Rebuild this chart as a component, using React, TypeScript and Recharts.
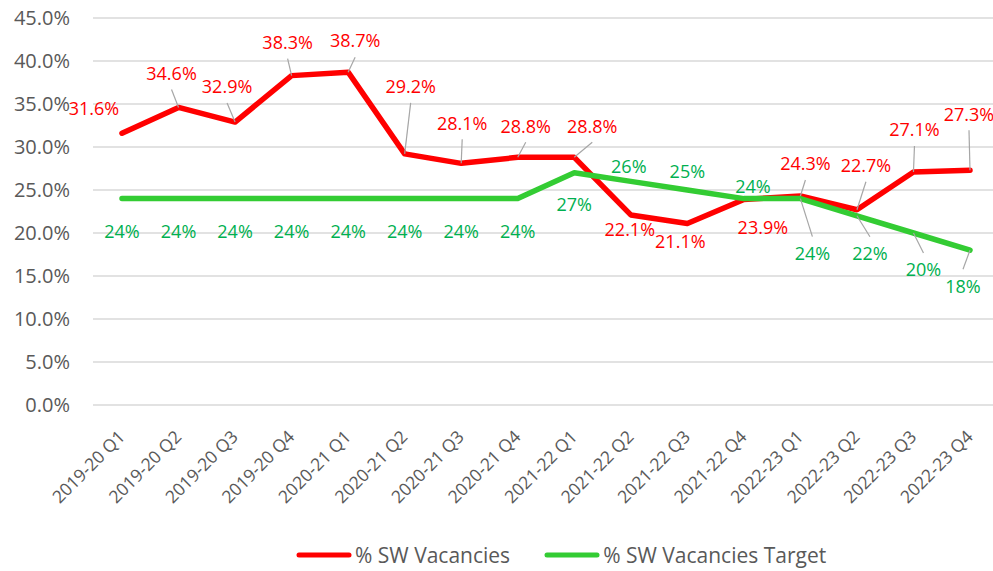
import React from 'react';
import { LineChart, Line, XAxis, YAxis, CartesianGrid, Legend } from 'recharts';

const quarters = [
  '2019-20 Q1', '2019-20 Q2', '2019-20 Q3', '2019-20 Q4',
  '2020-21 Q1', '2020-21 Q2', '2020-21 Q3', '2020-21 Q4',
  '2021-22 Q1', '2021-22 Q2', '2021-22 Q3', '2021-22 Q4',
  '2022-23 Q1', '2022-23 Q2', '2022-23 Q3', '2022-23 Q4',
];
const vacancies = [31.6, 34.6, 32.9, 38.3, 38.7, 29.2, 28.1, 28.8, 28.8, 22.1, 21.1, 23.9, 24.3, 22.7, 27.1, 27.3];
const target = [24, 24, 24, 24, 24, 24, 24, 24, 27, 26, 25, 24, 24, 22, 20, 18];
const yTicks = [0, 5, 10, 15, 20, 25, 30, 35, 40, 45];

// label placement, offset from the point to the label centre (as Excel moved them)
const redLabelPos = [
  [-28, -25, 0], [-7, -34, 1], [-8, -35, 1], [-4, -33, 1],
  [7, -31, 1], [6, -67, 1], [1, -40, 1], [8, -31, 1],
  [18, -31, 1], [-1, 15, 0], [-7, 18, 0], [19, 28, 0],
  [5, -32, 1], [9, -44, 1], [1, -42, 1], [-1, -56, 1],
];
const greenLabelPos = [
  [0, 33, 0], [0, 33, 0], [0, 33, 0], [0, 33, 0],
  [0, 33, 0], [0, 33, 0], [0, 33, 0], [0, 33, 0],
  [0, 32, 0], [-2, -15, 0], [0, -18, 0], [9, -12, 0],
  [12, 55, 1], [13, 38, 1], [10, 37, 1], [-7, 36, 1],
];

const data = quarters.map((q, i) => ({ q, red: vacancies[i], green: target[i] }));

const FONT = '"Open Sans", sans-serif';
const RED = '#FF0000';
const GREEN_LINE = '#33CC33';
const GREEN_TEXT = '#00B050';
const AXIS_TEXT = '#595959';

const makeLabel = (pos: number[][], color: string, fmt: (v: number) => string) => (props: any) => {
  const { x, y, value, index } = props;
  const [dx, dy, leader] = pos[index];
  const lx = x + dx;
  const ly = y + dy;
  const ey = dy < 0 ? ly + 16 : ly - 17;
  return (
    <g key={`lbl-${index}`}>
      {leader ? <line x1={x} y1={y} x2={lx} y2={ey} stroke="#A6A6A6" strokeWidth={1.2} /> : null}
      <text x={lx} y={ly} dy="0.35em" textAnchor="middle" fill={color} fontFamily={FONT} fontSize={18}>
        {fmt(value)}
      </text>
    </g>
  );
};

const RedLabel = makeLabel(redLabelPos, RED, (v) => `${v.toFixed(1)}%`);
const GreenLabel = makeLabel(greenLabelPos, GREEN_TEXT, (v) => `${Math.round(v)}%`);

const QuarterTick = (props: any) => {
  const { x, y, payload } = props;
  return (
    <g transform={`translate(${x + 4},${y + 33})`}>
      <text transform="rotate(-45)" textAnchor="end" fill={AXIS_TEXT} fontFamily={FONT} fontSize={17.5}>
        {payload.value}
      </text>
    </g>
  );
};

const LegendBox = () => {
  const items = [
    { name: '% SW Vacancies', color: RED },
    { name: '% SW Vacancies Target', color: GREEN_LINE },
  ];
  return (
    <div
      style={{
        display: 'flex',
        alignItems: 'center',
        height: 40,
        paddingTop: 8,
        paddingLeft: 296,
        boxSizing: 'border-box',
        fontFamily: FONT,
        fontSize: 21,
        color: AXIS_TEXT,
      }}
    >
      {items.map((it, i) => (
        <div key={it.name} style={{ display: 'flex', alignItems: 'center', marginRight: i === 0 ? 34 : 0 }}>
          <svg width={56} height={8} style={{ marginRight: 3 }}>
            <line x1={3} y1={4} x2={53} y2={4} stroke={it.color} strokeWidth={5} strokeLinecap="round" />
          </svg>
          <span style={{ lineHeight: '22px' }}>{it.name}</span>
        </div>
      ))}
    </div>
  );
};

export default function App() {
  return (
    <div style={{ position: 'absolute', left: 0, top: 0, width: 993, height: 571, background: '#fff' }}>
      <LineChart width={993} height={571} data={data} margin={{ top: 18, right: 0, bottom: 0, left: 0 }}>
        <CartesianGrid vertical={false} stroke="#D9D9D9" strokeWidth={1.5} />
        <XAxis
          dataKey="q"
          axisLine={false}
          tickLine={false}
          tickSize={0}
          tickMargin={0}
          interval={0}
          height={126}
          padding={{ left: 29, right: 23 }}
          tick={<QuarterTick />}
        />
        <YAxis
          width={93}
          domain={[0, 45]}
          ticks={yTicks}
          axisLine={false}
          tickLine={false}
          tickSize={0}
          tickMargin={23}
          tickFormatter={(v: number) => `${v.toFixed(1)}%`}
          tick={{ fill: AXIS_TEXT, fontFamily: FONT, fontSize: 20 }}
        />
        <Legend verticalAlign="bottom" height={40} content={<LegendBox />} />
        <Line
          dataKey="red"
          name="% SW Vacancies"
          stroke={RED}
          strokeWidth={5.5}
          strokeLinejoin="round"
          strokeLinecap="round"
          dot={false}
          isAnimationActive={false}
          label={RedLabel}
        />
        <Line
          dataKey="green"
          name="% SW Vacancies Target"
          stroke={GREEN_LINE}
          strokeWidth={5.5}
          strokeLinejoin="round"
          strokeLinecap="round"
          dot={false}
          isAnimationActive={false}
          label={GreenLabel}
        />
      </LineChart>
    </div>
  );
}
